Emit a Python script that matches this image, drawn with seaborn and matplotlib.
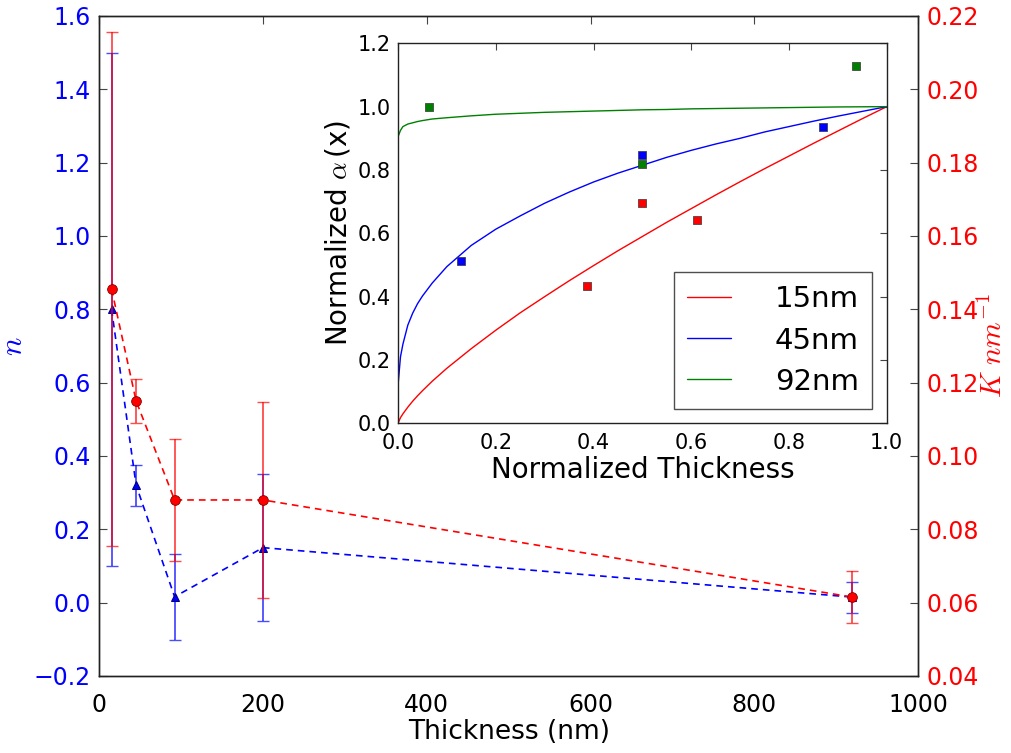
import matplotlib
matplotlib.use("Agg")
import matplotlib.pyplot as plt
import seaborn as sns
import numpy as np

# ---- main chart data ----
thickness = [15, 45, 92, 200, 920]
n_vals = [0.80, 0.32, 0.016, 0.15, 0.015]
n_err = [0.70, 0.056, 0.117, 0.20, 0.042]
k_vals = [0.1455, 0.115, 0.088, 0.088, 0.0615]
k_err = [0.070, 0.006, 0.0166, 0.0268, 0.007]

# ---- inset data ----
x_fit = [0, 0.005, 0.01, 0.02, 0.03, 0.04, 0.05, 0.07, 0.1, 0.15, 0.2, 0.25, 0.3, 0.35,
         0.4, 0.45, 0.5, 0.55, 0.6, 0.65, 0.7, 0.75, 0.8, 0.85, 0.9, 0.95, 1.0]
fit_15 = [0, 0.018, 0.03, 0.051, 0.070, 0.087, 0.103, 0.133, 0.174, 0.236, 0.294, 0.349, 0.40, 0.450,
          0.498, 0.545, 0.59, 0.635, 0.678, 0.721, 0.763, 0.804, 0.844, 0.884, 0.923, 0.962, 1.0]
fit_45 = [0.12, 0.21, 0.25, 0.31, 0.348, 0.378, 0.402, 0.443, 0.495, 0.562, 0.613, 0.655, 0.695, 0.73,
          0.762, 0.79, 0.815, 0.84, 0.862, 0.882, 0.90, 0.92, 0.937, 0.954, 0.97, 0.985, 1.0]
fit_92 = [0.905, 0.925, 0.937, 0.945, 0.949, 0.953, 0.956, 0.961, 0.965, 0.971, 0.976, 0.979, 0.982, 0.984,
          0.986, 0.988, 0.99, 0.991, 0.993, 0.994, 0.995, 0.996, 0.997, 0.998, 0.999, 0.9995, 1.0]

pts15_x = [0.386, 0.5, 0.6125]
pts15_y = [0.433, 0.695, 0.643]
pts45_x = [0.128, 0.5, 0.870]
pts45_y = [0.513, 0.848, 0.937]
pts92_x = [0.063, 0.5, 0.937]
pts92_y = [1.0, 0.819, 1.129]
legend_labels = ["15nm", "45nm", "92nm"]

sns.set_style("white")
plt.rcParams["font.family"] = ["DejaVu Sans"]
plt.rcParams["mathtext.fontset"] = "cm"
plt.rcParams["xtick.direction"] = "in"
plt.rcParams["ytick.direction"] = "in"
plt.rcParams["text.color"] = "black"
plt.rcParams["axes.labelcolor"] = "black"
plt.rcParams["xtick.color"] = "black"
plt.rcParams["ytick.color"] = "black"

BLUE = "#0000ff"
RED = "#ff0000"
GREEN = "#008000"

fig = plt.figure(figsize=(10.11, 7.53), dpi=100)
ax = fig.add_axes([0.0982, 0.1023, 0.8098, 0.8765])
ax2 = ax.twinx()

# blue n series
ax.errorbar(thickness, n_vals, yerr=n_err, fmt="none", ecolor=BLUE, alpha=0.7,
            elinewidth=1.3, capsize=4, capthick=1.0, zorder=2)
sns.lineplot(x=thickness, y=n_vals, ax=ax, color=BLUE, linestyle=(0, (4, 3)),
             linewidth=1.2, marker="^", markersize=6, markeredgecolor="#000080",
             estimator=None, sort=False, zorder=3)

# red K series
ax2.errorbar(thickness, k_vals, yerr=k_err, fmt="none", ecolor=RED, alpha=0.7,
             elinewidth=1.3, capsize=4, capthick=1.0, zorder=2)
sns.lineplot(x=thickness, y=k_vals, ax=ax2, color=RED, linestyle=(0, (4, 3)),
             linewidth=1.2, marker="o", markersize=7, markeredgecolor="#800000",
             markeredgewidth=0.6, estimator=None, sort=False, zorder=3)

ax.set_xlim(0, 1000)
ax.set_ylim(-0.2, 1.6)
ax2.set_ylim(0.04, 0.22)
ax.set_xticks(np.arange(0, 1001, 200))
ax.set_yticks(np.arange(-0.2, 1.61, 0.2))
ax2.set_yticks(np.arange(0.04, 0.221, 0.02))
ax.set_yticklabels([f"{v:.1f}".replace("-", "\u2212") for v in np.arange(-0.2, 1.61, 0.2)])
ax2.set_yticklabels([f"{v:.2f}" for v in np.arange(0.04, 0.221, 0.02)])

ax.tick_params(axis="both", labelsize=17, length=6, width=0.8, color="#444444",
               labelcolor="black", top=True, pad=6)
ax.tick_params(axis="x", pad=12)
ax.tick_params(axis="y", labelcolor=BLUE)
ax2.tick_params(axis="y", labelsize=17, length=6, width=0.8, color="#444444",
                labelcolor=RED, pad=6)
ax.set_xlabel("Thickness (nm)", fontsize=19, labelpad=2, color="black")
ax.set_ylabel("$n$", fontsize=22, color=BLUE, labelpad=4)
ax2.set_ylabel("$K\\ nm^{-1}$", fontsize=21, color=RED, labelpad=0)
for sp in list(ax.spines.values()) + list(ax2.spines.values()):
    sp.set_color("#222222")
    sp.set_linewidth(1.0)
ax.grid(False)
ax2.grid(False)

# ---- inset ----
axi = fig.add_axes([0.3937, 0.4378, 0.4834, 0.5047])
sns.lineplot(x=x_fit, y=fit_15, ax=axi, color=RED, linewidth=1.0, estimator=None,
             sort=False, label=legend_labels[0])
sns.lineplot(x=x_fit, y=fit_45, ax=axi, color=BLUE, linewidth=1.0, estimator=None,
             sort=False, label=legend_labels[1])
sns.lineplot(x=x_fit, y=fit_92, ax=axi, color=GREEN, linewidth=1.0, estimator=None,
             sort=False, label=legend_labels[2])
for px, py, c in [(pts15_x, pts15_y, RED), (pts45_x, pts45_y, BLUE), (pts92_x, pts92_y, GREEN)]:
    sns.scatterplot(x=px, y=py, ax=axi, color=c, marker="s", s=30,
                    edgecolor="#333333", linewidth=0.5, legend=False, zorder=4)

axi.set_xlim(0, 1.0)
axi.set_ylim(0, 1.2)
axi.set_xticks(np.arange(0, 1.01, 0.2))
axi.set_yticks(np.arange(0, 1.21, 0.2))
axi.set_xticklabels([f"{v:.1f}" for v in np.arange(0, 1.01, 0.2)])
axi.set_yticklabels([f"{v:.1f}" for v in np.arange(0, 1.21, 0.2)])
axi.tick_params(axis="both", labelsize=15, length=5, width=0.8, color="#444444",
                labelcolor="black", top=True, right=True, pad=5)
axi.tick_params(axis="x", pad=7)
axi.set_xlabel("Normalized Thickness", fontsize=20, labelpad=2, color="black")
axi.set_ylabel("Normalized $\\alpha\\,$(x)", fontsize=20, labelpad=4, color="black")
for sp in axi.spines.values():
    sp.set_color("#222222")
    sp.set_linewidth(1.0)
leg = axi.legend(loc="lower right", fontsize=21, frameon=True, fancybox=False,
                 handlelength=1.5, handletextpad=1.5, borderaxespad=0.5,
                 labelspacing=0.45, borderpad=0.45)
leg.get_frame().set_edgecolor("#222222")
leg.get_frame().set_linewidth(1.0)
for t in leg.get_texts():
    t.set_color("black")

fig.savefig("out.png", dpi=100, facecolor="white")
